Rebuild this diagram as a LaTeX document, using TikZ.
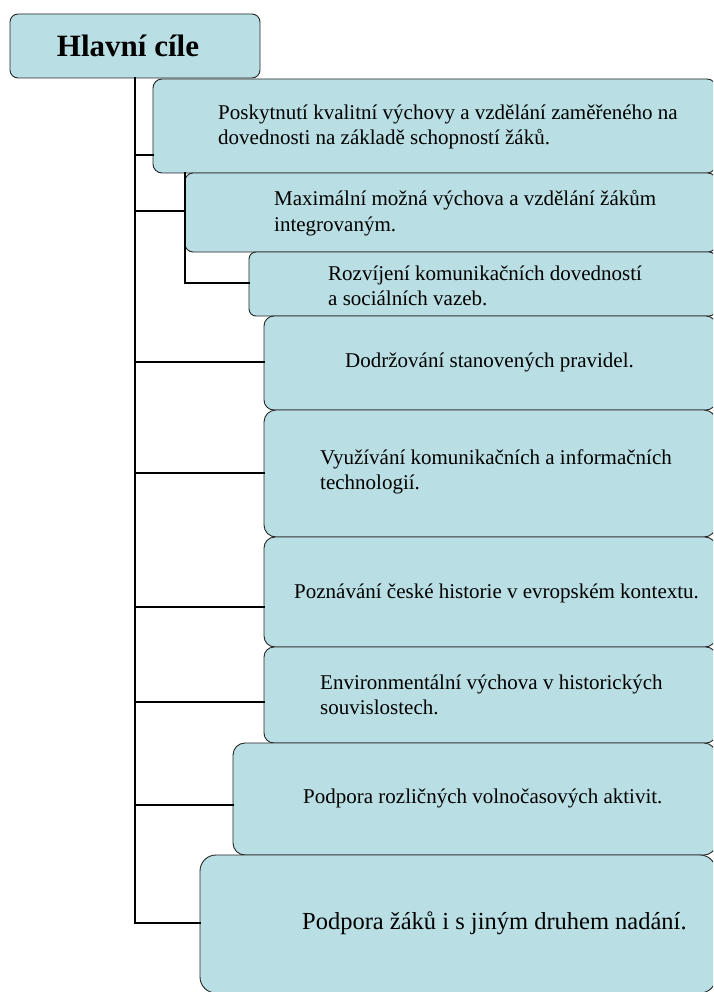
\documentclass[tikz,border=0pt]{standalone}
\usepackage{fontspec}
\setmainfont{Liberation Serif}
\usepackage{tikz}
\usetikzlibrary{calc,positioning}
\usepackage{xcolor}
\definecolor{goalblue}{RGB}{185,222,227}

\tikzset{
  goal/.style={draw=black!85, line width=0.9pt, fill=goalblue, anchor=north west,
    inner sep=0pt, outer sep=0pt},
  goaltext/.style={anchor=west, align=left, inner sep=0pt,
    font=\fontsize{21}{25.5}\selectfont},
  branch/.style={line width=2.6pt, line cap=rect}
}

\begin{document}
\begin{tikzpicture}[x=1pt,y=-1pt]
  \useasboundingbox (0,0) rectangle (713,992);
  \clip (0,0) rectangle (713,992);
  % header
  \node[goal, rounded corners=8pt, minimum width=250pt, minimum height=64pt] (head) at (10,14) {};
  \node[font=\fontsize{31}{31}\selectfont\bfseries] (headtext) at (128,46) {Hlavní cíle};
  % goal boxes
  \node[goal, rounded corners=9pt, minimum width=563pt, minimum height=94pt] (b1) at (153,79) {};
  \node[goal, rounded corners=8pt, minimum width=531pt, minimum height=79pt] (b2) at (185,173) {};
  \node[goal, rounded corners=7pt, minimum width=467pt, minimum height=64pt] (b3) at (249,252) {};
  \node[goal, rounded corners=10pt, minimum width=452pt, minimum height=94pt] (b4) at (264,316) {};
  \node[goal, rounded corners=12pt, minimum width=452pt, minimum height=127pt] (b5) at (264,410) {};
  \node[goal, rounded corners=11pt, minimum width=452pt, minimum height=110pt] (b6) at (264,537) {};
  \node[goal, rounded corners=10pt, minimum width=452pt, minimum height=96pt] (b7) at (264,647) {};
  \node[goal, rounded corners=12pt, minimum width=483pt, minimum height=112pt] (b8) at (233,743) {};
  \node[goal, rounded corners=16pt, minimum width=516pt, minimum height=138pt] (b9) at (200,855) {};
  % texts
  \node[goaltext] (t1) at (218,127) {Poskytnutí kvalitní výchovy a vzdělání zaměřeného na\\dovednosti na základě schopností žáků.};
  \node[goaltext] (t2) at (274,213) {Maximální možná výchova a vzdělání žákům\\integrovaným.};
  \node[goaltext] (t3) at (328,286) {Rozvíjení komunikačních dovedností\\a sociálních vazeb.};
  \node[goaltext] (t4) at (345,362) {Dodržování stanovených pravidel.};
  \node[goaltext] (t5) at (320,472) {Využívání komunikačních a informačních\\technologií.};
  \node[goaltext] (t6) at (294,593) {Poznávání české historie v evropském kontextu.};
  \node[goaltext] (t7) at (320,695) {Environmentální výchova v historických\\souvislostech.};
  \node[goaltext] (t8) at (303,798) {Podpora rozličných volnočasových aktivit.};
  \node[goaltext, font=\fontsize{24.5}{25}\selectfont] (t9) at (302,923) {Podpora žáků i s jiným druhem nadání.};
  % connectors
  \coordinate (r1) at (135,155);
  \coordinate (r2) at (135,211);
  \coordinate (s3) at (185,283);
  \coordinate (r4) at (135,362);
  \coordinate (r5) at (135,473);
  \coordinate (r6) at (135,607);
  \coordinate (r7) at (135,702);
  \coordinate (r8) at (135,805);
  \coordinate (r9) at (135,923);
  \draw[branch] (head.south) -- (r9) -- (r9 -| b9.west);
  \draw[branch] (r1) -- (r1 -| b1.west);
  \draw[branch] (r2) -- (r2 -| b2.west);
  \draw[branch] (b2.north west) -- (s3) -- (s3 -| b3.west);
  \draw[branch] (r4) -- (r4 -| b4.west);
  \draw[branch] (r5) -- (r5 -| b5.west);
  \draw[branch] (r6) -- (r6 -| b6.west);
  \draw[branch] (r7) -- (r7 -| b7.west);
  \draw[branch] (r8) -- (r8 -| b8.west);
\end{tikzpicture}
\end{document}
